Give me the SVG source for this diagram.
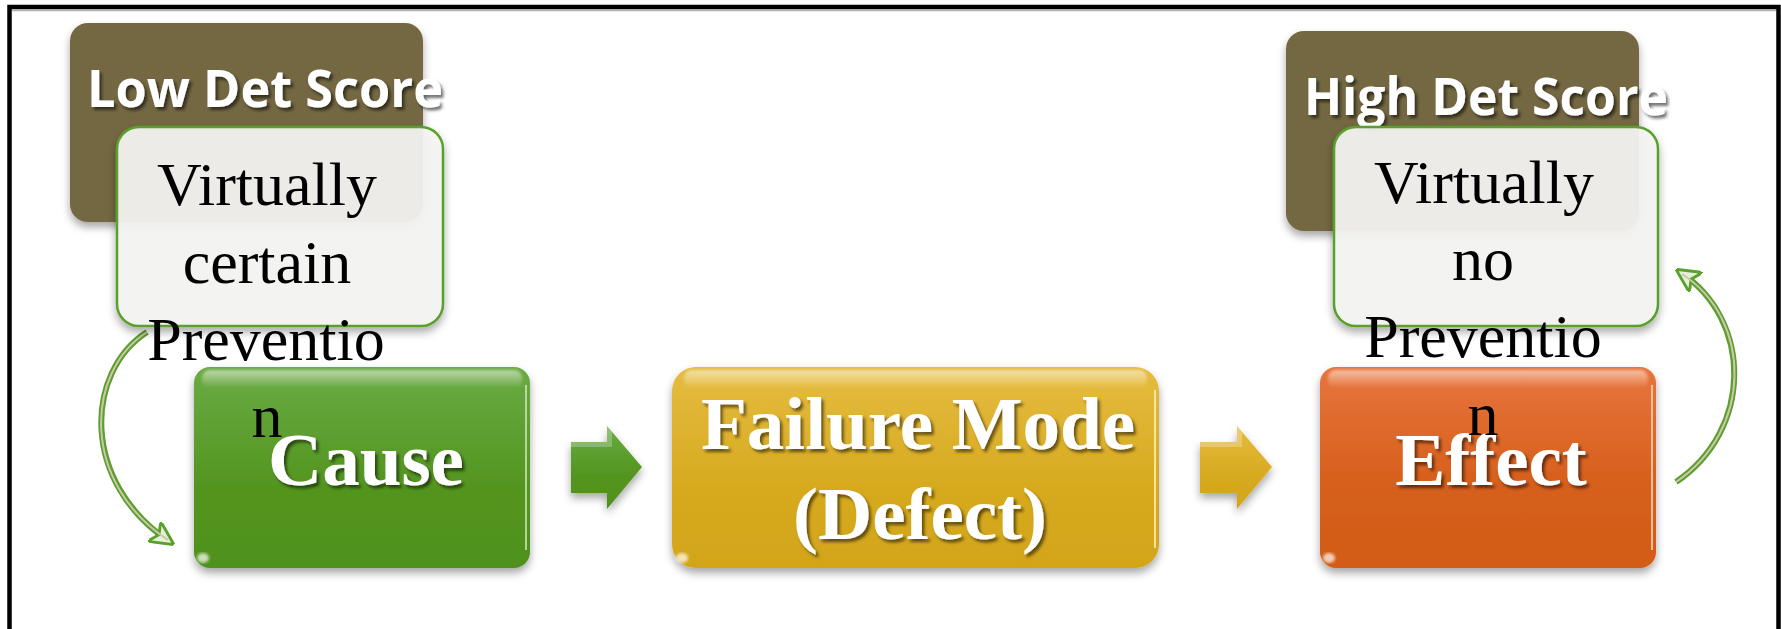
<svg xmlns="http://www.w3.org/2000/svg" width="1781" height="629" viewBox="0 0 1781 629">
  <defs>
    <linearGradient id="gGreen" x1="0" y1="0" x2="0" y2="1">
      <stop offset="0" stop-color="#6aab45"/>
      <stop offset="0.6" stop-color="#53951f"/>
      <stop offset="1" stop-color="#4f911d"/>
    </linearGradient>
    <linearGradient id="gYellow" x1="0" y1="0" x2="0" y2="1">
      <stop offset="0" stop-color="#e6bc42"/>
      <stop offset="0.6" stop-color="#d6aa1e"/>
      <stop offset="1" stop-color="#d3a519"/>
    </linearGradient>
    <linearGradient id="gOrange" x1="0" y1="0" x2="0" y2="1">
      <stop offset="0" stop-color="#e8743d"/>
      <stop offset="0.6" stop-color="#d65f1b"/>
      <stop offset="1" stop-color="#d35b17"/>
    </linearGradient>
    <linearGradient id="gHi" x1="0" y1="0" x2="0" y2="1">
      <stop offset="0" stop-color="#ffffff" stop-opacity="0.55"/>
      <stop offset="1" stop-color="#ffffff" stop-opacity="0"/>
    </linearGradient>
    <filter id="shadow" x="-10%" y="-10%" width="130%" height="140%">
      <feDropShadow dx="0" dy="5" stdDeviation="4" flood-color="#000" flood-opacity="0.35"/>
    </filter>
    <filter id="tshadow" x="-10%" y="-20%" width="130%" height="150%">
      <feDropShadow dx="2.5" dy="3" stdDeviation="1.5" flood-color="#000" flood-opacity="0.55"/>
    </filter>
    <filter id="soft"><feGaussianBlur stdDeviation="1.5"/></filter>
    <marker id="curvHead" viewBox="0 0 10 10" refX="8" refY="5" markerWidth="4" markerHeight="4" orient="auto" markerUnits="strokeWidth">
      <path d="M0,0 L10,5 L0,10 L2.5,5 Z" fill="#e4f0d8" stroke="#5aa02c" stroke-width="1.2"/>
    </marker>
    <style>
      .proc { filter: url(#shadow); }
      .ptext { font-family: "Liberation Serif", "Times New Roman", serif; font-weight: bold; font-size: 75px; fill: #ffffff; text-anchor: middle; filter: url(#tshadow); }
      .score { fill: #736843; }
      .stext { font-family: "Open Sans", "Noto Sans", sans-serif; font-weight: bold; font-size: 52px; fill: #ffffff; filter: url(#tshadow); }
      .note { fill: #f5f5f4; fill-opacity: 0.92; stroke: #5aa02c; stroke-width: 2.5; }
      .ntext { font-family: "Liberation Serif", "Times New Roman", serif; font-size: 62px; fill: #000000; text-anchor: middle; }
      .hi { fill: url(#gHi); }
      .tubeOut { fill: none; stroke: #5aa02c; stroke-width: 6; }
      .tubeIn { fill: none; stroke: #cfc5ab; stroke-width: 2; }
    </style>
  </defs>

  <rect x="0" y="0" width="1781" height="629" fill="#ffffff"/>
  <!-- frame -->
  <line x1="12" y1="10.5" x2="1776" y2="10.5" stroke="#b0b0b0" stroke-width="1.5"/>
  <rect x="9.5" y="7" width="1769" height="700" fill="none" stroke="#000000" stroke-width="4.5"/>

  <!-- process nodes -->
  <g id="cause">
    <rect class="proc" x="194" y="367" width="336" height="201" rx="16" fill="url(#gGreen)"/>
    <rect class="hi" x="202" y="370" width="320" height="18" rx="8" filter="url(#soft)"/>
    <line x1="526" y1="385" x2="526" y2="550" stroke="#c9e6b5" stroke-width="2" opacity="0.8"/>
    <ellipse cx="203" cy="558" rx="6" ry="5" fill="#ffffff" opacity="0.7" filter="url(#soft)"/>
    <text class="ptext" x="366" y="485">Cause</text>
  </g>

  <g id="failure-mode">
    <rect class="proc" x="672" y="367" width="487" height="201" rx="24" fill="url(#gYellow)"/>
    <rect class="hi" x="684" y="370" width="463" height="18" rx="8" filter="url(#soft)"/>
    <line x1="1155" y1="390" x2="1155" y2="548" stroke="#fbeaa6" stroke-width="2" opacity="0.9"/>
    <ellipse cx="682" cy="558" rx="6" ry="5" fill="#ffffff" opacity="0.7" filter="url(#soft)"/>
    <text class="ptext" x="918" y="449">Failure Mode</text>
    <text class="ptext" x="920" y="539">(Defect)</text>
  </g>

  <g id="effect">
    <rect class="proc" x="1320" y="367" width="336" height="201" rx="16" fill="url(#gOrange)"/>
    <rect class="hi" x="1328" y="370" width="320" height="18" rx="8" filter="url(#soft)"/>
    <line x1="1652" y1="385" x2="1652" y2="550" stroke="#f7c9a8" stroke-width="2" opacity="0.9"/>
    <ellipse cx="1329" cy="558" rx="6" ry="5" fill="#ffffff" opacity="0.7" filter="url(#soft)"/>
    <text class="ptext" x="1491" y="485">Effect</text>
  </g>

  <!-- connectors -->
  <g id="connectors">
    <path d="M571,442 L607,442 L607,426 L642,467 L607,509 L607,493 L571,493 Z" fill="url(#gGreen)" filter="url(#shadow)"/>
    <path d="M571,442 L607,442 L607,426 L612,432 L612,447 L571,447 Z" fill="#ffffff" opacity="0.25"/>
    <path d="M1200,442 L1237,442 L1237,426 L1272,467 L1237,509 L1237,493 L1200,493 Z" fill="url(#gYellow)" filter="url(#shadow)"/>
    <path d="M1200,442 L1237,442 L1237,426 L1242,432 L1242,447 L1200,447 Z" fill="#ffffff" opacity="0.25"/>
    <path class="tubeOut" d="M147,332 C85,372 80,482 170,542" marker-end="url(#curvHead)"/>
    <path class="tubeIn" d="M147,332 C85,372 80,482 168,540"/>
    <path class="tubeOut" d="M1676,482 C1753,430 1753,320 1680,272" marker-end="url(#curvHead)"/>
    <path class="tubeIn" d="M1676,482 C1753,430 1753,320 1682,274"/>
  </g>

  <!-- score / note nodes -->
  <g id="low-det-score">
    <rect class="score proc" x="70" y="23" width="353" height="199" rx="18"/>
    <text class="stext" x="87" y="107" textLength="356" lengthAdjust="spacingAndGlyphs">Low Det Score</text>
  </g>
  <g id="virtually-certain">
    <rect class="note proc" x="117" y="127" width="326" height="199" rx="22"/>
    <text class="ntext" x="267" y="205">Virtually</text>
    <text class="ntext" x="267" y="283">certain</text>
    <text class="ntext" x="266" y="360">Preventio</text>
    <text class="ntext" x="267" y="437">n</text>
  </g>

  <g id="high-det-score">
    <rect class="score proc" x="1286" y="31" width="353" height="200" rx="18"/>
    <text class="stext" x="1304" y="115" textLength="364" lengthAdjust="spacingAndGlyphs">High Det Score</text>
  </g>
  <g id="virtually-no">
    <rect class="note proc" x="1334" y="127" width="324" height="199" rx="22"/>
    <text class="ntext" x="1484" y="203">Virtually</text>
    <text class="ntext" x="1483" y="280">no</text>
    <text class="ntext" x="1483" y="357">Preventio</text>
    <text class="ntext" x="1483" y="435">n</text>
  </g>
</svg>
